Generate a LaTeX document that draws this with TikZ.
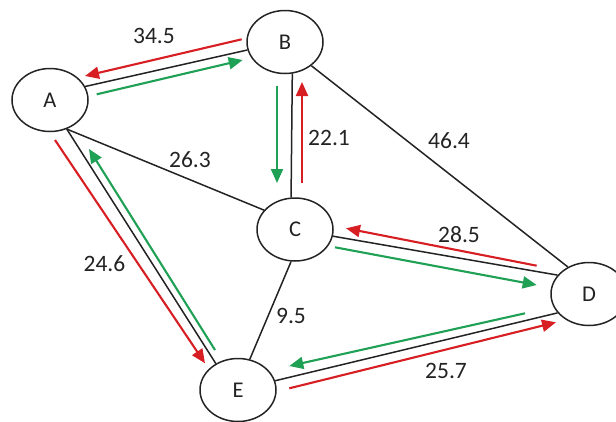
\documentclass[tikz,border=0pt]{standalone}
\usepackage{fontspec}
\setmainfont{Carlito}
\usetikzlibrary{arrows.meta,shapes.geometric}
\definecolor{arrred}{RGB}{215,30,35}
\definecolor{arrgreen}{RGB}{30,160,85}
\definecolor{inkc}{RGB}{35,35,35}
\begin{document}
\begin{tikzpicture}[x=1pt,y=-1pt,
  vertex/.style={draw=inkc, line width=1.5pt, ellipse, minimum width=76pt, minimum height=63pt, inner sep=0pt, text=inkc, font=\fontsize{22.5}{26}\selectfont},
  edge/.style={draw=inkc, line width=1.5pt},
  redarr/.style={draw=arrred, line width=2.1pt, -{Triangle[length=14pt,width=12pt]}, arrred},
  greenarr/.style={draw=arrgreen, line width=2.1pt, -{Triangle[length=14pt,width=12pt]}, arrgreen},
  weight/.style={text=inkc, font=\fontsize{23.5}{27}\selectfont, inner sep=0pt}
]
\useasboundingbox (0,0) rectangle (616,421);
% nodes
\node[vertex] (A) at (50,100) {A};
\node[vertex] (B) at (285,42) {B};
\node[vertex] (C) at (295,229.5) {C};
\node[vertex] (D) at (589,294) {D};
\node[vertex] (E) at (238,390) {E};
% edges
\draw[edge] (A.21) -- (B.192);
\draw[edge] (A.-60) -- (C.148.6);
\draw[edge] (A.-60) -- (E.130);
\draw[edge] (B.-77) -- (C.97);
\draw[edge] (B.-42) -- (D.128);
\draw[edge] (C.-10.6) -- (D.149);
\draw[edge] (C.-97) -- (E.69.4);
\draw[edge] (E.14.4) -- (D.-149);
% arrow end points
\coordinate (abR1) at (241.7,39.3); \coordinate (abR2) at (85,76);
\coordinate (abG1) at (96.7,94.3); \coordinate (abG2) at (242.7,60);
\coordinate (bcG1) at (277,86);    \coordinate (bcG2) at (277,183);
\coordinate (bcR1) at (302,183);   \coordinate (bcR2) at (302,82);
\coordinate (cdR1) at (536.7,265.7); \coordinate (cdR2) at (346,228.3);
\coordinate (cdG1) at (335,247.3); \coordinate (cdG2) at (536.7,285);
\coordinate (edG1) at (525,313.3); \coordinate (edG2) at (289.3,366);
\coordinate (edR1) at (289.3,388.3); \coordinate (edR2) at (556,322.3);
\coordinate (aeR1) at (55,140);    \coordinate (aeR2) at (205,363.3);
\coordinate (aeG1) at (215,350);   \coordinate (aeG2) at (89,149);
% arrows
\draw[redarr] (abR1) -- (abR2);
\draw[greenarr] (abG1) -- (abG2);
\draw[greenarr] (bcG1) -- (bcG2);
\draw[redarr] (bcR1) -- (bcR2);
\draw[redarr] (cdR1) -- (cdR2);
\draw[greenarr] (cdG1) -- (cdG2);
\draw[greenarr] (edG1) -- (edG2);
\draw[redarr] (edR1) -- (edR2);
\draw[redarr] (aeR1) -- (aeR2);
\draw[greenarr] (aeG1) -- (aeG2);
% weights
\node[weight] (w1) at (154,36) {34.5};
\node[weight] (w2) at (329,138) {22.1};
\node[weight] (w3) at (449,141) {46.4};
\node[weight] (w4) at (190,160) {26.3};
\node[weight] (w5) at (459,235) {28.5};
\node[weight] (w6) at (104.5,264) {24.6};
\node[weight] (w7) at (291,316) {9.5};
\node[weight] (w8) at (446,371) {25.7};
\end{tikzpicture}
\end{document}
